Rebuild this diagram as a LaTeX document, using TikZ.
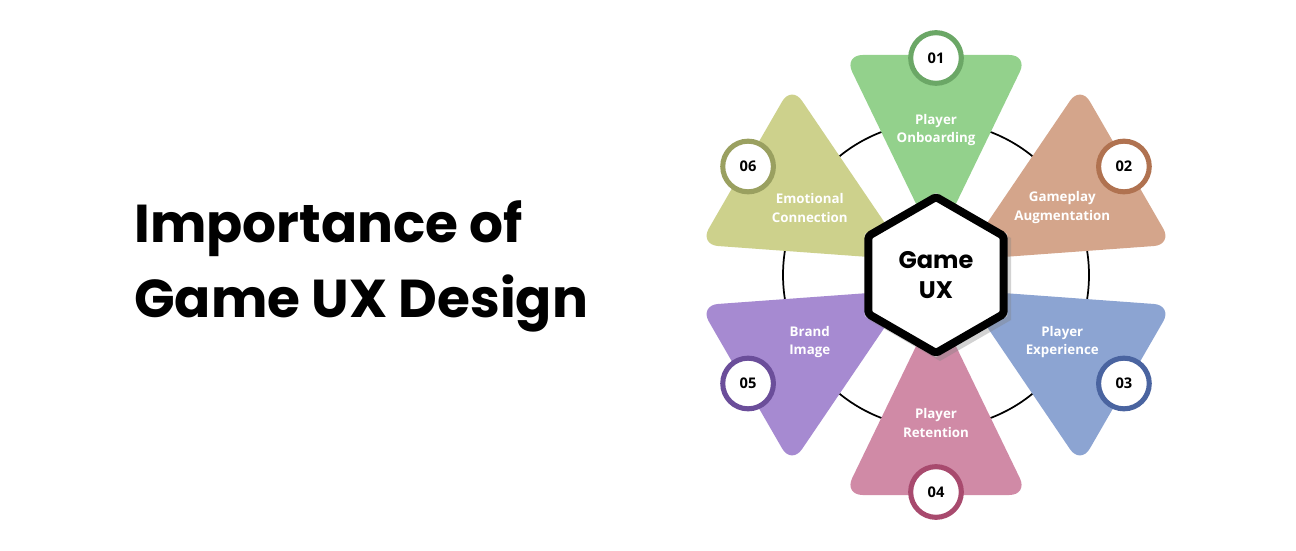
\documentclass[tikz,border=0pt]{standalone}
\usepackage{fontspec}
\setmainfont{Open Sans}
\newfontfamily\titlefont{Poppins}
\usetikzlibrary{shadows}
\definecolor{cA}{HTML}{93D18C}\definecolor{rA}{HTML}{6BA766}
\definecolor{cB}{HTML}{D4A58B}\definecolor{rB}{HTML}{B07250}
\definecolor{cC}{HTML}{8CA4D2}\definecolor{rC}{HTML}{4A64A0}
\definecolor{cD}{HTML}{D08AA6}\definecolor{rD}{HTML}{A84A6E}
\definecolor{cE}{HTML}{A68AD1}\definecolor{rE}{HTML}{6B4E9A}
\definecolor{cF}{HTML}{CDD18C}\definecolor{rF}{HTML}{9AA060}
\begin{document}
\begin{tikzpicture}[x=0.75pt,y=0.75pt,
  lbl/.style={text=white,font=\bfseries\fontsize{10}{14}\selectfont,align=center},
  num/.style={circle,fill=white,draw=#1,line width=3.8pt,minimum size=38pt,inner sep=0pt,font=\bfseries\fontsize{11}{12}\selectfont},
  tri/.style={fill=#1,rounded corners=14pt}]
\useasboundingbox (0,0) rectangle (1296,550);
\fill[white] (0,0) rectangle (1296,550);
\coordinate (c) at (936,275);
\node[anchor=base west,font=\titlefont\bfseries\fontsize{40}{48}\selectfont,inner sep=0pt] (t1) at (134,307) {Importance of};
\node[anchor=base west,font=\titlefont\bfseries\fontsize{40}{48}\selectfont,inner sep=0pt] (t2) at (134,232) {Game UX Design};
\draw[line width=1.3pt] (c) circle (153);
\foreach \a/\col in {90/cA,30/cB,-30/cC,-90/cD,-150/cE,150/cF}{
  \fill[tri=\col,rotate around={\a-90:(c)}] ([shift={(-92,220)}]c) -- ([shift={(92,220)}]c) -- ([shift={(0,30)}]c) -- cycle;
}
\node[lbl] (l1) at ([shift={(90:145)}]c) {Player\\Onboarding};
\node[lbl] (l2) at ([shift={(28:143)}]c) {Gameplay\\Augmentation};
\node[lbl] (l3) at ([shift={(-28:143)}]c) {Player\\Experience};
\node[lbl] (l4) at ([shift={(-90:148)}]c) {Player\\Retention};
\node[lbl] (l5) at ([shift={(-152:143)}]c) {Brand\\Image};
\node[lbl] (l6) at ([shift={(152:143)}]c) {Emotional\\Connection};
\fill[white,drop shadow={opacity=0.35,shadow xshift=3pt,shadow yshift=-3pt}] ([shift={(90:82)}]c) -- ([shift={(30:82)}]c) -- ([shift={(-30:82)}]c) -- ([shift={(-90:82)}]c) -- ([shift={(-150:82)}]c) -- ([shift={(150:82)}]c) -- cycle;
\draw[line width=6pt,rounded corners=2pt] ([shift={(90:78)}]c) -- ([shift={(30:78)}]c) -- ([shift={(-30:78)}]c) -- ([shift={(-90:78)}]c) -- ([shift={(-150:78)}]c) -- ([shift={(150:78)}]c) -- cycle;
\node[font=\titlefont\bfseries\fontsize{18}{22}\selectfont,align=center] (hub) at (c) {Game\\UX};
\node[num=rA] (n1) at ([shift={(90:217)}]c) {01};
\node[num=rB] (n2) at ([shift={(30:217)}]c) {02};
\node[num=rC] (n3) at ([shift={(-30:217)}]c) {03};
\node[num=rD] (n4) at ([shift={(-90:217)}]c) {04};
\node[num=rE] (n5) at ([shift={(-150:217)}]c) {05};
\node[num=rF] (n6) at ([shift={(150:217)}]c) {06};
\end{tikzpicture}
\end{document}
